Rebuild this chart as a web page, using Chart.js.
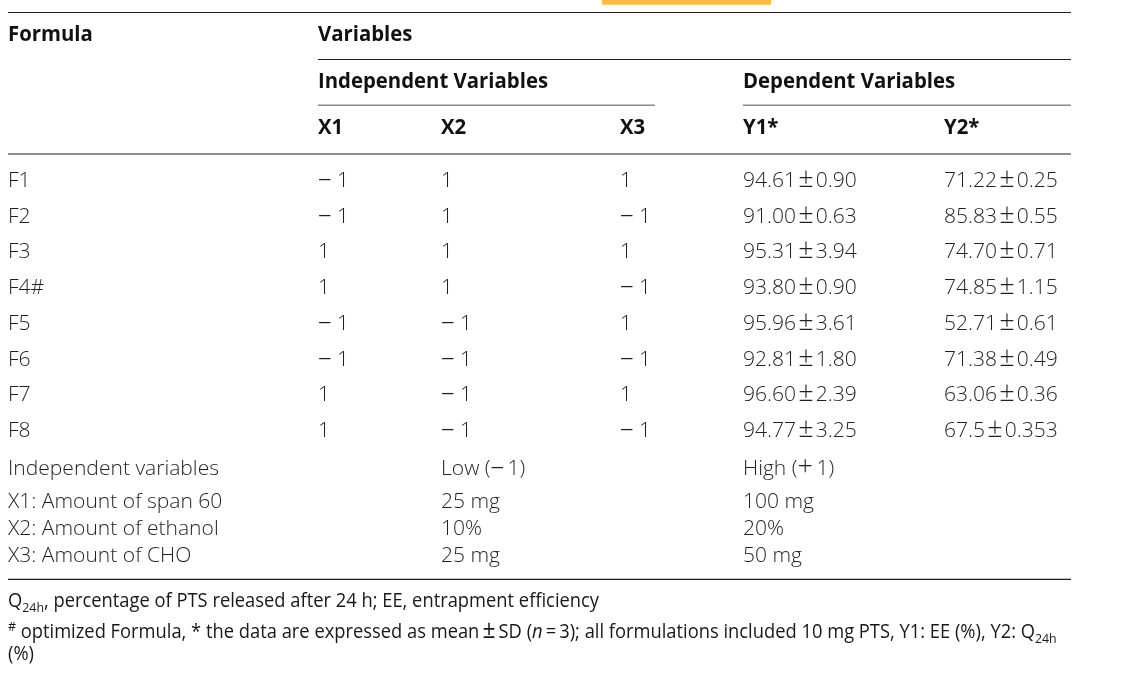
<!DOCTYPE html>
<html>
<head>
<meta charset="utf-8">
<title>Formulation design table</title>
<script src="https://cdn.jsdelivr.net/npm/chart.js@4.4.0/dist/chart.umd.min.js"></script>
<style>
  html, body { margin: 0; padding: 0; background: #fff; }
  canvas { display: block; }
</style>
</head>
<body>
<canvas id="table-chart" width="1122" height="689"></canvas>
<script>
// table data
const formulas = ["F1", "F2", "F3", "F4#", "F5", "F6", "F7", "F8"];
const x1Levels = [-1, -1, 1, 1, -1, -1, 1, 1];
const x2Levels = [1, 1, 1, 1, -1, -1, -1, -1];
const x3Levels = [1, -1, 1, -1, 1, -1, 1, -1];
const y1Mean = ["94.61", "91.00", "95.31", "93.80", "95.96", "92.81", "96.60", "94.77"];
const y1Sd   = ["0.90", "0.63", "3.94", "0.90", "3.61", "1.80", "2.39", "3.25"];
const y2Mean = ["71.22", "85.83", "74.70", "74.85", "52.71", "71.38", "63.06", "67.5"];
const y2Sd   = ["0.25", "0.55", "0.71", "1.15", "0.61", "0.49", "0.36", "0.353"];

const colHeads = ["X1", "X2", "X3", "Y1*", "Y2*"];
const factorNames = ["X1: Amount of span 60", "X2: Amount of ethanol", "X3: Amount of CHO"];
const lowLevels  = ["25 mg", "10%", "25 mg"];
const highLevels = ["100 mg", "20%", "50 mg"];

const footLine1 = [{t: "Q"}, {t: "24h", sub: true}, {t: ", percentage of PTS released after 24 h; EE, entrapment efficiency"}];
const footLine2 = [{t: "#", sup: true}, {t: " optimized Formula, * the data are expressed as mean\u2009"}, {t: "\u00b1", big: true},
                   {t: "\u2009SD ("}, {t: "n", it: true},
                   {t: "\u2009=\u20093); all formulations included 10 mg PTS, Y1: EE (%), Y2: Q"}, {t: "24h", sub: true}];
const footLine3 = [{t: "(%)"}];

// layout (pixels)
const colX = {formula: 8, x1: 318, x2: 441, x3: 620, y1: 743, y2: 944};
const firstRow = 187, rowStep = 35.7;
const levelRows = [508, 535, 562];
const right = 1071;

const styles = {
  head: {font: "bold 21px 'Open Sans'", small: "bold 14px 'Open Sans'", italic: "italic bold 21px 'Open Sans'",
         big: "bold 25px 'Open Sans'", color: "#111", fitText: [{t: "Independent Variables"}], fitWidth: 230},
  body: {font: "300 21px 'Open Sans'", small: "300 14px 'Open Sans'", italic: "italic 300 21px 'Open Sans'",
         big: "300 27px 'Open Sans'", color: "#231f20", fitText: [{t: "Independent variables"}], fitWidth: 211},
  foot: {font: "20px 'Open Sans'", small: "13.5px 'Open Sans'", italic: "italic 20px 'Open Sans'",
         big: "25px 'Open Sans'", color: "#1a1718", fitText: footLine1, fitWidth: 591}
};

function segFont(st, s) {
  if (s.sub || s.sup) return st.small;
  if (s.it) return st.italic;
  if (s.big) return st.big;
  return st.font;
}
function richWidth(ctx, segs, st) {
  let w = 0;
  segs.forEach(s => { ctx.font = segFont(st, s); w += ctx.measureText(s.t).width; });
  return w;
}
function drawRich(ctx, segs, x, y, st, sx) {
  ctx.save();
  ctx.translate(x, y);
  ctx.scale(sx, 1);
  let cx = 0;
  segs.forEach(s => {
    ctx.font = segFont(st, s);
    const dy = s.sub ? 5 : (s.sup ? -7 : 0);
    ctx.fillText(s.t, cx, dy);
    cx += ctx.measureText(s.t).width;
  });
  ctx.restore();
}

const tableText = {
  id: 'tableText',
  afterDatasetsDraw(chart) {
    const ctx = chart.ctx;
    chart.data.datasets.forEach((ds, i) => {
      if (!ds.cells) return;
      const st = styles[ds.style];
      const meta = chart.getDatasetMeta(i);
      ctx.save();
      ctx.fillStyle = st.color;
      ctx.textBaseline = 'alphabetic';
      ctx.textAlign = 'left';
      const sx = st.fitWidth / richWidth(ctx, st.fitText, st);
      meta.data.forEach((el, j) => {
        let c = ds.cells[j];
        if (typeof c === 'string') c = [{t: c}];
        drawRich(ctx, c, el.x, el.y, st, sx);
      });
      ctx.restore();
    });
  }
};

const minus = {t: "\u2013", big: true};
function lvl(v) { return v < 0 ? [minus, {t: " 1"}] : [{t: "1"}]; }
function pm(m, s) { return [{t: m + "\u200a"}, {t: "\u00b1", big: true}, {t: "\u200a" + s}]; }
function rowY(i) { return firstRow + i * rowStep; }

function textSet(style, xs, ys, cells) {
  return {
    style: style, cells: cells,
    data: cells.map((c, i) => ({x: Array.isArray(xs) ? xs[i] : xs, y: Array.isArray(ys) ? ys[i] : ys})),
    pointRadius: 0, showLine: false, clip: false
  };
}
function hline(y, x0, x1, color, w) {
  return {data: [{x: x0, y: y}, {x: x1, y: y}], showLine: true, pointRadius: 0,
          borderColor: color, borderWidth: w, borderCapStyle: 'butt', clip: false};
}

const rows = formulas.map((f, i) => rowY(i));

const datasets = [
  // rules
  hline(2.4, 602, 771, "#fdbb45", 4.8),
  hline(12.5, 8, right, "#231f20", 1.2),
  hline(59.5, 318, right, "#231f20", 1.2),
  hline(105.3, 318, 655, "#8a8a8a", 1.6),
  hline(105.3, 743, right, "#8a8a8a", 1.6),
  hline(154, 8, right, "#231f20", 1.2),
  hline(579.3, 8, right, "#231f20", 1.2),
  // headers
  textSet("head", [colX.formula, colX.x1], 41, ["Formula", "Variables"]),
  textSet("head", [colX.x1, colX.y1], 88, ["Independent Variables", "Dependent Variables"]),
  textSet("head", [colX.x1, colX.x2, colX.x3, colX.y1, colX.y2], 133.5, colHeads),
  // body rows
  textSet("body", colX.formula, rows, formulas),
  textSet("body", colX.x1, rows, x1Levels.map(lvl)),
  textSet("body", colX.x2, rows, x2Levels.map(lvl)),
  textSet("body", colX.x3, rows, x3Levels.map(lvl)),
  textSet("body", colX.y1, rows, y1Mean.map((m, i) => pm(m, y1Sd[i]))),
  textSet("body", colX.y2, rows, y2Mean.map((m, i) => pm(m, y2Sd[i]))),
  // factor levels
  textSet("body", [colX.formula, colX.x2, colX.y1], 475,
          ["Independent variables", [{t: "Low ("}, minus, {t: "\u20091)"}], [{t: "High ("}, {t: "+", big: true}, {t: "\u20091)"}]]),
  textSet("body", colX.formula, levelRows, factorNames),
  textSet("body", colX.x2, levelRows, lowLevels),
  textSet("body", colX.y1, levelRows, highLevels),
  // footnotes
  textSet("foot", colX.formula, [606.5, 638, 659.5], [footLine1, footLine2, footLine3])
];

new Chart(document.getElementById("table-chart"), {
  type: 'scatter',
  data: {datasets: datasets},
  options: {
    responsive: false,
    animation: false,
    events: [],
    layout: {padding: 0},
    scales: {
      x: {type: 'linear', min: 0, max: 1122, display: false},
      y: {type: 'linear', min: 0, max: 689, reverse: true, display: false}
    },
    plugins: {legend: {display: false}, tooltip: {enabled: false}, title: {display: false}}
  },
  plugins: [tableText]
});
</script>
</body>
</html>
